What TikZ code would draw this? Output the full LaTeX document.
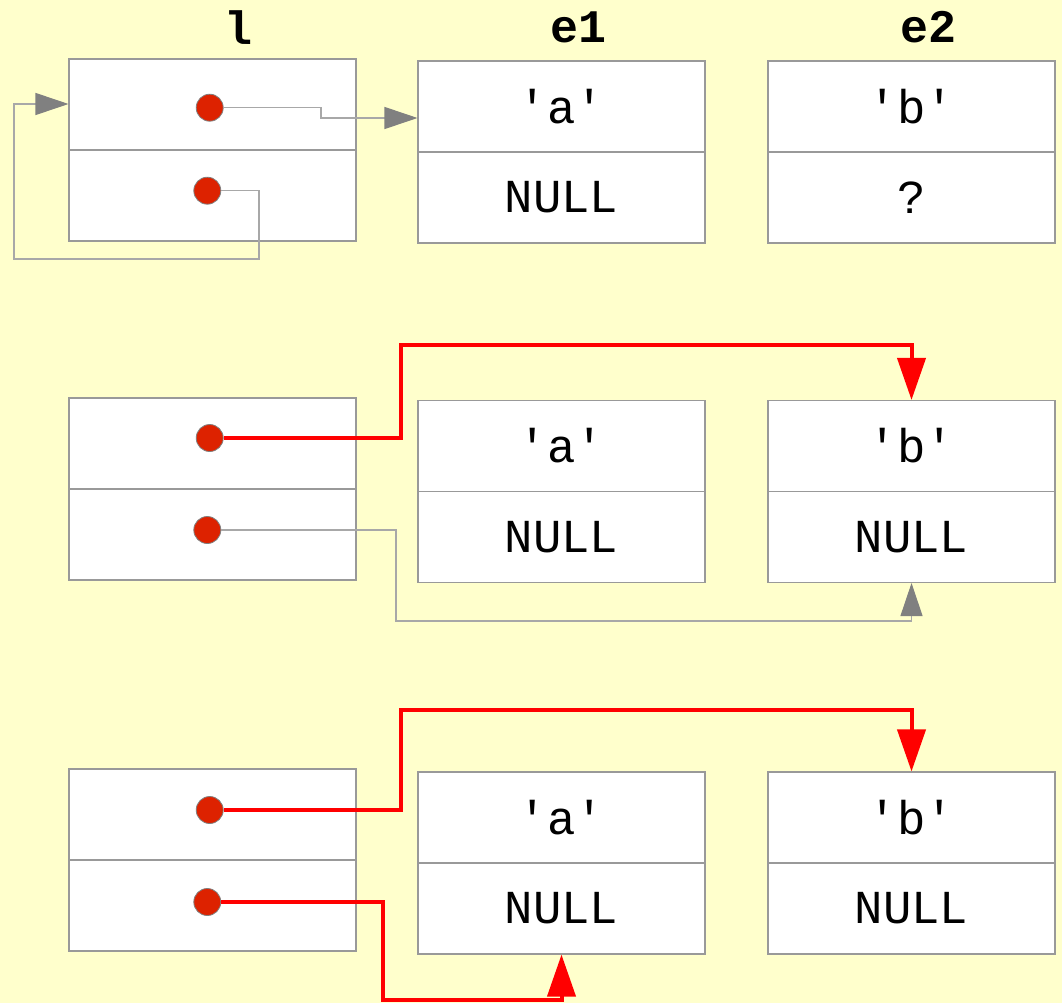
\documentclass[tikz,border=0pt]{standalone}
\usepackage{fontspec}
\newfontfamily\monofam{Liberation Mono}
\usetikzlibrary{arrows.meta}
\definecolor{bg}{HTML}{FFFFCC}
\definecolor{dotred}{HTML}{DD2200}
\definecolor{boxgray}{HTML}{999999}
\definecolor{linegray}{HTML}{A8A8A8}
\definecolor{headgray}{HTML}{808080}
\begin{document}
\begin{tikzpicture}[x=0.75pt,y=-0.75pt,
  cell/.style={draw=boxgray, line width=0.8pt, fill=white, minimum width=215.25pt,
    minimum height=68.25pt, inner sep=0pt, font=\monofam\fontsize{35.5}{35.5}\selectfont},
  dot/.style={circle, draw=gray, fill=dotred, minimum size=20.25pt, inner sep=0pt, line width=0.6pt},
  lab/.style={font=\monofam\bfseries\fontsize{35}{35}\selectfont, anchor=base, inner sep=0pt},
  gline/.style={draw=linegray, line width=0.8pt},
  garrow/.style={gline, -{Triangle[length=24.75pt,width=16.5pt,color=headgray]}},
  rarrow/.style={draw=red, line width=3pt, line join=miter, -{Triangle[length=31.5pt,width=21pt]}},
]
\fill[bg] (0,0) rectangle (1062,1003);
\useasboundingbox (0,0) rectangle (1062,1003);

% labels
\node[lab] (labl) at (238,44) {l};
\node[lab] (labe1) at (578,42) {e1};
\node[lab] (labe2) at (928,42) {e2};

% row 1
\node[cell] (l1a) at (212.5,104.5) {};
\node[cell] (l1b) at (212.5,195.5) {};
\node[cell] (e1a) at (561.5,106.5) {'a'};
\node[cell] (e1b) at (561.5,197.5) {NULL};
\node[cell] (e2a) at (911.5,106.5) {'b'};
\node[cell] (e2b) at (911.5,197.5) {?};

% row 2
\node[cell] (l2a) at (212.5,443.5) {};
\node[cell] (l2b) at (212.5,534.5) {};
\node[cell] (e1c) at (561.5,446) {'a'};
\node[cell] (e1d) at (561.5,537) {NULL};
\node[cell] (e2c) at (911.5,446) {'b'};
\node[cell] (e2d) at (911.5,537) {NULL};

% row 3
\node[cell] (l3a) at (212.5,814.5) {};
\node[cell] (l3b) at (212.5,905.5) {};
\node[cell] (e1e) at (561.5,817.5) {'a'};
\node[cell] (e1f) at (561.5,908.5) {NULL};
\node[cell] (e2e) at (911.5,817.5) {'b'};
\node[cell] (e2f) at (911.5,908.5) {NULL};

% dots
\node[dot] (d1a) at (209.7,107.7) {};
\node[dot] (d1b) at (207.3,190.7) {};
\node[dot] (d2a) at (209.7,438) {};
\node[dot] (d2b) at (207.3,530) {};
\node[dot] (d3a) at (209.7,810) {};
\node[dot] (d3b) at (207.3,902) {};

% connectors row 1
\coordinate (k1) at (321,118);
\coordinate (k2) at (259,259);
\coordinate (k3) at (14,104);
\draw[garrow] (d1a.east) -| (k1) -- (k1 -| e1a.west);
\draw[garrow] (d1b.east) -| (k2) -| (k3) -- (k3 -| l1a.west);

% connectors row 2
\coordinate (k4) at (401,345);
\coordinate (k5) at (396,621);
\draw[rarrow] (d2a.east) -| (k4) -| (e2c.north);
\draw[garrow] (d2b.east) -| (k5) -| (e2d.south);

% connectors row 3
\coordinate (k6) at (401,710);
\coordinate (k7) at (383,1000);
\draw[rarrow] (d3a.east) -| (k6) -| (e2e.north);
\draw[rarrow] (d3b.east) -| (k7) -| (e1f.south);
\end{tikzpicture}
\end{document}
